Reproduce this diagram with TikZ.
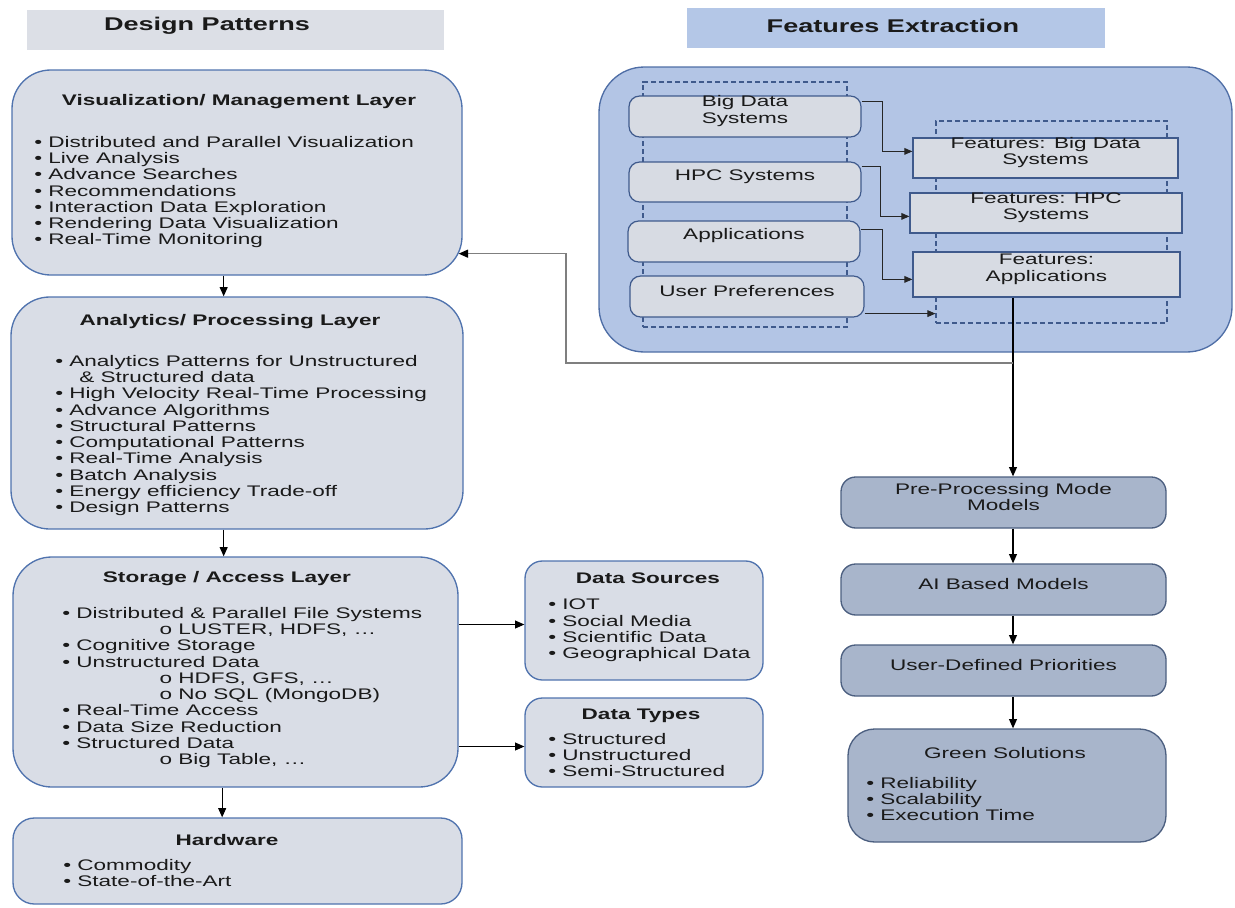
\documentclass[tikz,border=0pt]{standalone}
\usepackage{fontspec}
\setmainfont{Liberation Sans}[FakeStretch=1.47]
\usetikzlibrary{positioning,fit,calc,arrows.meta}

\definecolor{txt}{HTML}{1A1A1A}
\definecolor{hdrgrey}{HTML}{DCDFE6}
\definecolor{hdrblue}{HTML}{B4C7E7}
\definecolor{layerfill}{HTML}{D9DDE6}
\definecolor{layerline}{HTML}{5073AE}
\definecolor{featfill}{HTML}{B3C5E5}
\definecolor{featline}{HTML}{4F6EA6}
\definecolor{srcfill}{HTML}{D7DBE3}
\definecolor{darkline}{HTML}{3F5A8C}
\definecolor{flowfill}{HTML}{A8B5CB}
\definecolor{flowline}{HTML}{4C5F80}
\definecolor{feedgrey}{HTML}{7F7F7F}

\tikzset{
  every node/.style={font=\fontsize{11.5}{12.2}\selectfont, text=txt},
  hdrbox/.style={draw=none, inner sep=0pt},
  hdrtxt/.style={inner sep=0pt, font=\fontsize{13.8}{16}\selectfont\bfseries},
  layer/.style={draw=layerline, fill=layerfill, line width=1pt, rounded corners=29pt, inner sep=0pt},
  smallbox/.style={draw=layerline, fill=layerfill, line width=1pt, rounded corners=13pt, inner sep=0pt},
  srcbox/.style={draw=darkline, fill=srcfill, line width=0.9pt, rounded corners=8pt, inner sep=0pt, align=center},
  featbox/.style={draw=darkline, fill=srcfill, line width=0.9pt, inner sep=0pt, align=center},
  dashbox/.style={draw=darkline, dashed, dash pattern=on 4pt off 2pt, line width=0.8pt, inner sep=0pt},
  flowbox/.style={draw=flowline, fill=flowfill, line width=1pt, rounded corners=11pt, inner sep=0pt, align=center},
  ttl/.style={inner sep=0pt, font=\fontsize{11.5}{12.2}\selectfont\bfseries},
  lst/.style={inner sep=0pt, align=left, anchor=north west},
  arr/.style={draw=black, line width=0.8pt, -{Triangle[length=7pt,width=6pt]}},
  link/.style={draw=black!85, line width=0.7pt, -{Triangle[length=6pt,width=5pt]}},
  feed/.style={draw=feedgrey, line width=0.9pt, -{Triangle[length=7pt,width=6pt,color=black]}}
}

\begin{document}
\begin{tikzpicture}[x=0.75pt,y=-0.75pt]
\useasboundingbox (0,0) rectangle (1235,907);

% headers
\node[hdrbox, fill=hdrgrey, fit={(27,10)(444,50)}] (dphdr) {};
\node[hdrtxt] at (207,26) {Design Patterns};
\node[hdrbox, fill=hdrblue, fit={(687,8)(1105,48)}] (fehdr) {};
\node[hdrtxt] at (893,26) {Features Extraction};

% design pattern layers
\node[layer, fit={(12,70)(462,275)}] (vis) {};
\node[ttl] at (239,102) {Visualization/ Management Layer};
\node[lst] at (34,136) {\textbullet\ Distributed and Parallel Visualization\\
  \textbullet\ Live Analysis\\
  \textbullet\ Advance Searches\\
  \textbullet\ Recommendations\\
  \textbullet\ Interaction Data Exploration\\
  \textbullet\ Rendering Data Visualization\\
  \textbullet\ Real-Time Monitoring};

\node[layer, fit={(11,297)(463,529)}] (ana) {};
\node[ttl] at (230,322) {Analytics/ Processing Layer};
\node[lst] at (55,355) {\textbullet\ Analytics Patterns for Unstructured\\
  \hspace{18pt}\& Structured data\\
  \textbullet\ High Velocity Real-Time Processing\\
  \textbullet\ Advance Algorithms\\
  \textbullet\ Structural Patterns\\
  \textbullet\ Computational Patterns\\
  \textbullet\ Real-Time Analysis\\
  \textbullet\ Batch Analysis\\
  \textbullet\ Energy efficiency Trade-off\\
  \textbullet\ Design Patterns};

\node[layer, fit={(13,557)(458,787)}] (sto) {};
\node[ttl] at (227,579) {Storage / Access Layer};
\node[lst] at (62,607) {\textbullet\ Distributed \& Parallel File Systems\\
  \hspace{73pt}o LUSTER, HDFS, …\\
  \textbullet\ Cognitive Storage\\
  \textbullet\ Unstructured Data\\
  \hspace{73pt}o HDFS, GFS, …\\
  \hspace{73pt}o No SQL (MongoDB)\\
  \textbullet\ Real-Time Access\\
  \textbullet\ Data Size Reduction\\
  \textbullet\ Structured Data\\
  \hspace{73pt}o Big Table, …};

\node[smallbox, rounded corners=16pt, fit={(13,818)(462,904)}] (hw) {};
\node[ttl] at (227,840) {Hardware};
\node[lst] at (63,859) {\textbullet\ Commodity\\
  \textbullet\ State-of-the-Art};

\node[smallbox, fit={(525,561)(763,680)}] (dsrc) {};
\node[ttl] at (648,578) {Data Sources};
\node[lst] at (548,599) {\textbullet\ IOT\\
  \textbullet\ Social Media\\
  \textbullet\ Scientific Data\\
  \textbullet\ Geographical Data};

\node[smallbox, fit={(525,698)(763,787)}] (dtyp) {};
\node[ttl] at (641,716) {Data Types};
\node[lst] at (548,733) {\textbullet\ Structured\\
  \textbullet\ Unstructured\\
  \textbullet\ Semi-Structured};

% features extraction
\node[layer, draw=featline, fill=featfill, rounded corners=34pt, fit={(599,67)(1232,352)}] (feat) {};
\node[dashbox, fit={(643,82)(847,327)}] (ldash) {};
\node[dashbox, fit={(936,121)(1167,323)}] (rdash) {};
\node[srcbox, fit={(629,96)(861,137)}] (bds) {Big Data\\Systems};
\node[srcbox, fit={(629,162)(861,202)}] (hpc) {HPC Systems};
\node[srcbox, fit={(628,221)(860,262)}] (app) {Applications};
\node[srcbox, fit={(630,276)(864,317)}] (usr) {User Preferences};
\node[featbox, fit={(913,138)(1178,178)}] (fbd) {Features: Big Data\\Systems};
\node[featbox, fit={(910,193)(1182,233)}] (fhpc) {Features: HPC\\Systems};
\node[featbox, fit={(913,252)(1180,297)}] (fapp) {Features:\\Applications};

% right flow
\node[flowbox, fit={(841,477)(1166,528)}] (pre) {Pre-Processing Mode\\Models};
\node[flowbox, fit={(841,564)(1166,615)}] (ai) {AI Based Models};
\node[flowbox, fit={(841,645)(1166,696)}] (udp) {User-Defined Priorities};
\node[flowbox, rounded corners=20pt, fit={(848,729)(1166,842)}] (green) {};
\node[inner sep=0pt] at (1005,753) {Green Solutions};
\node[lst] at (866,777) {\textbullet\ Reliability\\
  \textbullet\ Scalability\\
  \textbullet\ Execution Time};

% connectors
\coordinate (tap) at (1013,363);
\coordinate (bend) at (566,363);

\foreach \a/\b in {vis/ana,ana/sto,sto/hw}
  \draw[arr] ([xshift=-10pt]\a.south) -- ([xshift=-10pt]\a.south |- \b.north);
\draw[arr] ([yshift=-3pt]dsrc.west -| sto.east) -- ([yshift=-3pt]dsrc.west);
\draw[arr] ([yshift=-3pt]dtyp.west -| sto.east) -- ([yshift=-3pt]dtyp.west);

\draw[link] ($(bds.north east)+(0,6)$) -- ++(21,0) |- ($(fbd.north west)+(0,14)$);
\draw[link] ($(hpc.north east)+(0,5)$) -- ++(19,0) |- ($(fhpc.north west)+(0,24)$);
\draw[link] ($(app.north east)+(0,9)$) -- ++(22,0) |- ($(fapp.north west)+(0,28)$);
\draw[link] ($(usr.south east)+(0,-4)$) -- ($(usr.south east -| rdash.west)+(0,-4)$);

\draw[line width=0.9pt] (fapp.south -| tap) -- (tap);
\draw[arr] (tap) -- (tap |- pre.north);
\draw[feed] (tap) -- (bend) |- ($(vis.south east)+(-4,-22)$);

\draw[arr] (pre.south -| tap) -- (ai.north -| tap);
\draw[arr] (ai.south -| tap) -- (udp.north -| tap);
\draw[arr] (udp.south -| tap) -- (green.north -| tap);
\end{tikzpicture}
\end{document}
